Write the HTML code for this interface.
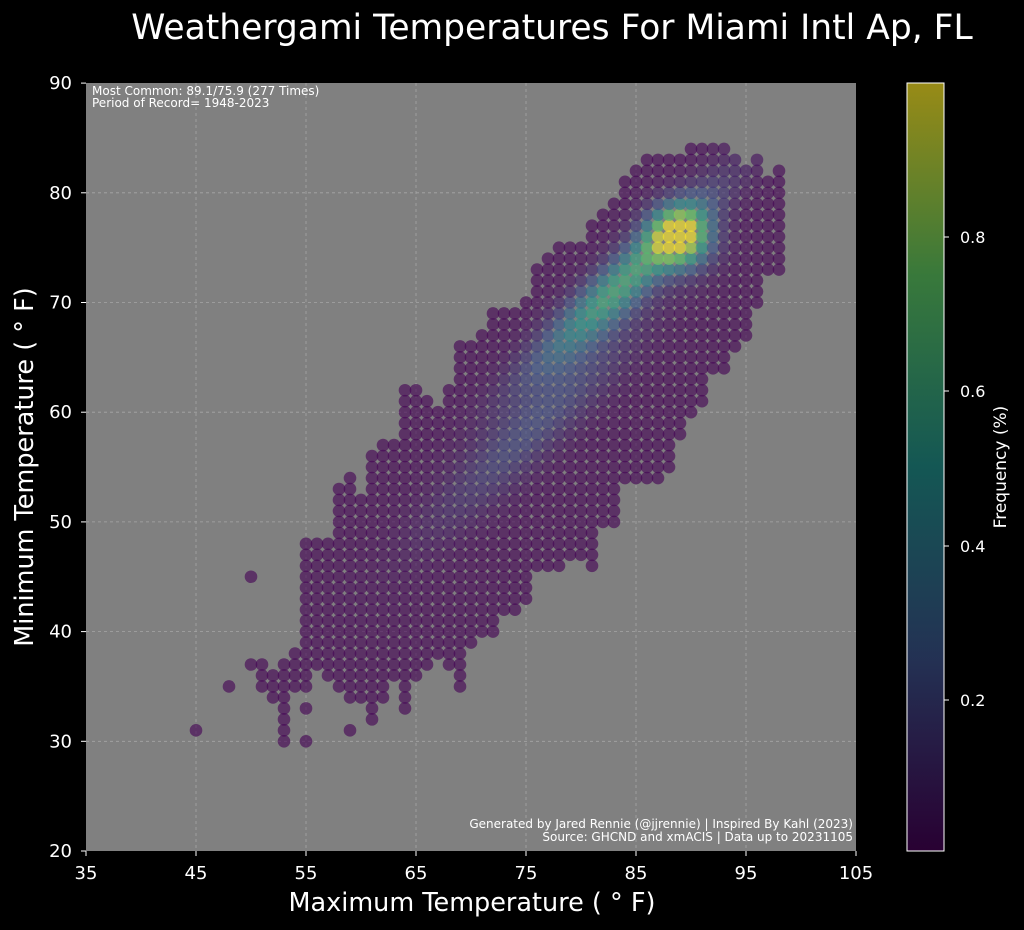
<!DOCTYPE html>
<html><head><meta charset="utf-8"><style>
body{margin:0;background:#000;width:1024px;height:930px;overflow:hidden}
svg{display:block;font-family:"DejaVu Sans","Liberation Sans",sans-serif}
</style></head><body>
<svg id="s" width="1024" height="930" xmlns="http://www.w3.org/2000/svg">
<defs>
<linearGradient id="vir" x1="0" y1="1" x2="0" y2="0">
<stop offset="0" stop-color="#440154"/><stop offset="0.25" stop-color="#3b528b"/>
<stop offset="0.5" stop-color="#21918c"/><stop offset="0.75" stop-color="#5ec962"/>
<stop offset="1" stop-color="#fde725"/></linearGradient>
</defs>
<rect width="1024" height="930" fill="#000"/>
<text x="552" y="39" fill="#fff" font-size="34.5" text-anchor="middle">Weathergami Temperatures For Miami Intl Ap, FL</text>
<rect x="86" y="83" width="770" height="768" fill="#808080"/>
<g id="grid" stroke="#b0b0b0" stroke-width="0.8" stroke-dasharray="3,3" opacity="0.8"></g>
<g id="dots"></g>
<text x="92" y="95" fill="#fff" font-size="12">Most Common: 89.1/75.9 (277 Times)</text>
<text x="92" y="107" fill="#fff" font-size="12">Period of Record= 1948-2023</text>
<text x="853" y="828" fill="#fff" font-size="12" text-anchor="end">Generated by Jared Rennie (@jjrennie) | Inspired By Kahl (2023)</text>
<text x="853" y="841" fill="#fff" font-size="12" text-anchor="end">Source: GHCND and xmACIS | Data up to 20231105</text>
<g id="ticks" fill="#fff" font-size="18"></g>
<text x="472" y="911" fill="#fff" font-size="25.5" text-anchor="middle">Maximum Temperature ( ° F)</text>
<text transform="translate(33,467) rotate(-90)" fill="#fff" font-size="25.5" text-anchor="middle">Minimum Temperature ( ° F)</text>
<rect x="907" y="83" width="37" height="768" fill="url(#vir)" opacity="0.6"/>
<rect x="907" y="83" width="37" height="768" fill="none" stroke="#fff" stroke-width="1"/>
<g fill="#fff" font-size="16">
<text x="960" y="706">0.2</text><text x="960" y="552">0.4</text><text x="960" y="397">0.6</text><text x="960" y="243">0.8</text>
</g>
<g stroke="#fff"><line x1="944" y1="700" x2="949" y2="700"/><line x1="944" y1="546" x2="949" y2="546"/><line x1="944" y1="391" x2="949" y2="391"/><line x1="944" y1="237" x2="949" y2="237"/></g>
<text transform="translate(1006,467) rotate(-90)" fill="#fff" font-size="17" text-anchor="middle">Frequency (%)</text>
</svg>
<script>
var NS="http://www.w3.org/2000/svg";
function X(t){return 86+(t-35)*11}
function Y(t){return 851-(t-20)*10.97}
function el(n,a,p,txt){var e=document.createElementNS(NS,n);for(var k in a)e.setAttribute(k,a[k]);if(txt)e.textContent=txt;p.appendChild(e);return e}
var g=document.getElementById("grid"),tk=document.getElementById("ticks");
for(var t=45;t<=95;t+=10)el("line",{x1:X(t),x2:X(t),y1:83,y2:851},g);
for(var t=30;t<=80;t+=10)el("line",{x1:86,x2:856,y1:Y(t),y2:Y(t)},g);
for(var t=35;t<=105;t+=10){el("text",{x:X(t),y:879,"text-anchor":"middle"},tk,""+t);el("line",{x1:X(t),x2:X(t),y1:851,y2:856,stroke:"#fff"},tk);}
for(var t=20;t<=90;t+=10){el("text",{x:72,y:Y(t)+6,"text-anchor":"end"},tk,""+t);el("line",{x1:81,x2:86,y1:Y(t),y2:Y(t),stroke:"#fff"},tk);}
var R={45:[[31,31]],48:[[35,35]],50:[[37,37],[45,45]],51:[[35,37]],52:[[34,36]],53:[[30,37]],54:[[35,38]],55:[[30,30],[33,33],[35,48]],56:[[37,48]],57:[[36,48]],58:[[35,53]],59:[[31,31],[34,54]],60:[[34,52]],61:[[32,56]],62:[[34,57]],63:[[36,57]],64:[[33,62]],65:[[36,62]],66:[[37,61]],67:[[38,60]],68:[[37,62]],69:[[35,66]],70:[[39,66]],71:[[40,67]],72:[[40,69]],73:[[42,69]],74:[[42,69]],75:[[43,70]],76:[[46,73]],77:[[46,74]],78:[[46,75]],79:[[47,75]],80:[[47,75]],81:[[46,77]],82:[[50,78]],83:[[50,79]],84:[[54,81]],85:[[54,82]],86:[[54,83]],87:[[54,83]],88:[[55,83]],89:[[58,83]],90:[[60,84]],91:[[61,84]],92:[[64,84]],93:[[64,84]],94:[[66,83]],95:[[67,82]],96:[[70,83]],97:[[73,81]],98:[[73,82]]};
var S=[[0,[68,1,84]],[0.25,[59,82,139]],[0.5,[33,145,140]],[0.75,[94,201,98]],[1,[253,231,37]]];
function vir(v){v=Math.max(0,Math.min(1,v));for(var i=1;i<S.length;i++){if(v<=S[i][0]){var a=S[i-1],b=S[i],f=(v-a[0])/(b[0]-a[0]);return "rgb("+[0,1,2].map(function(k){return Math.round(a[1][k]+(b[1][k]-a[1][k])*f)}).join(",")+")"}}return "rgb(253,231,37)"}
function dens(x,y){
 var d=Math.exp(-((x-89)*(x-89)+(y-76)*(y-76))/7)*0.95;
 var u=(x-y-12),w=(x+y-155);
 d+=0.62*Math.exp(-u*u/9-w*w/220);
 var u2=(x-y-17),w2=(x+y-135);
 d+=0.2*Math.exp(-u2*u2/12-w2*w2/300);
 return Math.min(d,1);}
var D=document.getElementById("dots");
for(var k in R){var x=+k;R[k].forEach(function(r){for(var y=r[0];y<=r[1];y++){
 el("circle",{cx:X(x),cy:Y(y),r:6.3,fill:vir(dens(x,y)),"fill-opacity":0.62},D);}});}
</script>
</body></html>
